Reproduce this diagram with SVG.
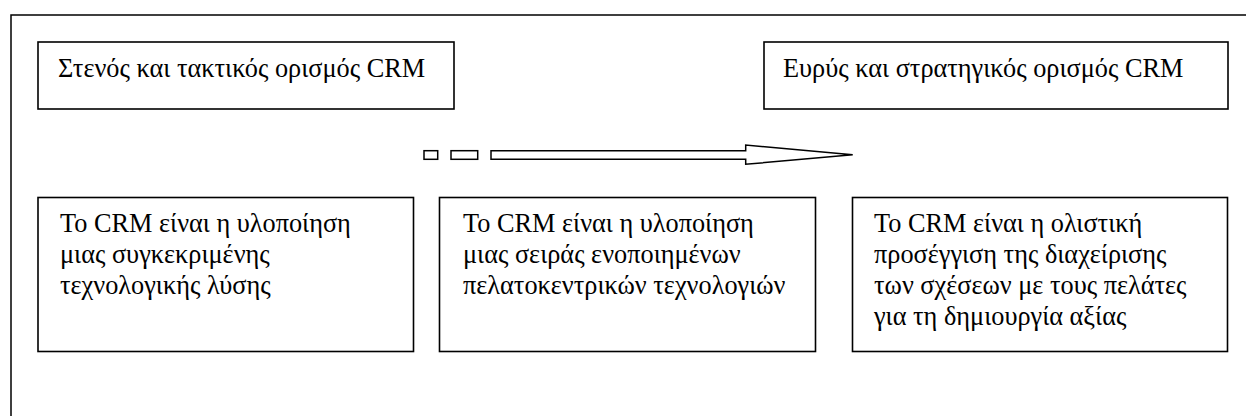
<svg xmlns="http://www.w3.org/2000/svg" width="1246" height="416" viewBox="0 0 1246 416">
<style>
.frame{fill:none;stroke:#000;stroke-width:1.5}
.box{fill:#fff;stroke:#000;stroke-width:1.6}
.t{font-family:'Liberation Serif','Times New Roman',serif;font-size:26.3px;fill:#000}
.arr{fill:#fff;stroke:#000;stroke-width:1.5;stroke-linejoin:miter}
</style>
<rect class="frame" x="11" y="15" width="1250" height="420"/>
<g id="narrow">
<rect class="box" x="38" y="42" width="416" height="67"/>
<text class="t" x="58" y="77">Στενός και τακτικός ορισμός CRM</text>
</g>
<g id="broad">
<rect class="box" x="764" y="42" width="464" height="67"/>
<text class="t" x="783" y="77">Ευρύς και στρατηγικός ορισμός CRM</text>
</g>
<g id="connectors">
<rect class="arr" x="424" y="150.7" width="13.7" height="8.6"/>
<rect class="arr" x="451" y="150.7" width="26.7" height="8.6"/>
<polygon class="arr" points="491,150.7 745.7,150.7 745.7,145 852.7,154.7 745.7,164.3 745.7,159.3 491,159.3"/>
</g>
<g id="tech-solution">
<rect class="box" x="38" y="197.5" width="375.5" height="154"/>
<text class="t" x="60" y="232"><tspan x="60">Το CRM είναι η υλοποίηση</tspan><tspan x="60" dy="31">μιας συγκεκριμένης</tspan><tspan x="60" dy="31">τεχνολογικής λύσης</tspan></text>
</g>
<g id="integrated-tech">
<rect class="box" x="439.5" y="197.5" width="376" height="154"/>
<text class="t" x="463" y="232"><tspan x="463">Το CRM είναι η υλοποίηση</tspan><tspan x="463" dy="31">μιας σειράς ενοποιημένων</tspan><tspan x="463" dy="31">πελατοκεντρικών τεχνολογιών</tspan></text>
</g>
<g id="holistic">
<rect class="box" x="852.5" y="197.5" width="375" height="154"/>
<text class="t" x="874" y="232"><tspan x="874">Το CRM είναι η ολιστική</tspan><tspan x="874" dy="31">προσέγγιση της διαχείρισης</tspan><tspan x="874" dy="31">των σχέσεων με τους πελάτες</tspan><tspan x="874" dy="31">για τη δημιουργία αξίας</tspan></text>
</g>
</svg>
